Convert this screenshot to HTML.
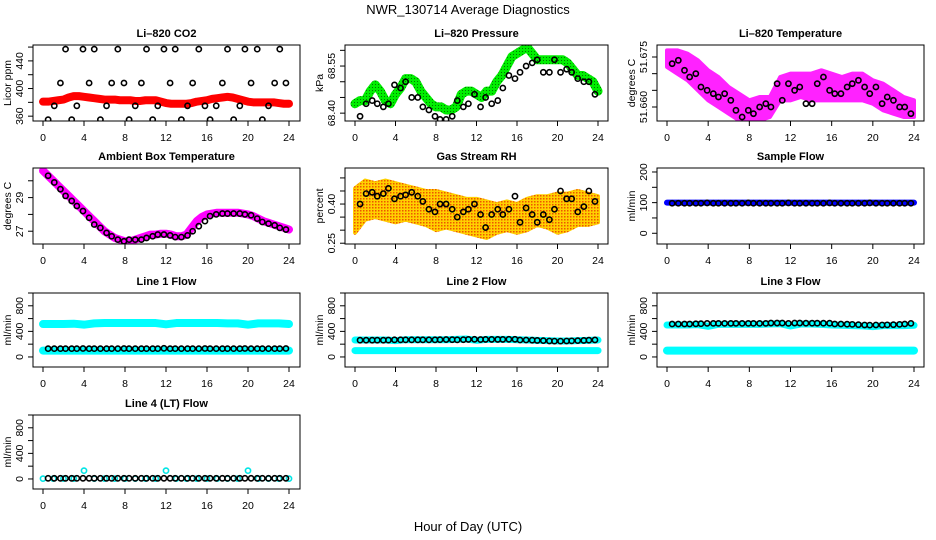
<!DOCTYPE html>
<html><head><meta charset="utf-8"><style>
html,body{margin:0;padding:0;background:#fff;}
svg{display:block;font-family:"Liberation Sans",sans-serif;}
</style></head><body>
<svg id="c" width="936" height="540" viewBox="0 0 936 540">
<defs>
<pattern id="gp" width="3" height="3" patternUnits="userSpaceOnUse"><rect width="3" height="3" fill="#00ee00"/><rect width="1" height="1" fill="#007700"/></pattern>
<pattern id="op" width="3" height="3" patternUnits="userSpaceOnUse"><rect width="3" height="3" fill="#ffd000"/><rect width="1.5" height="1.5" fill="#ee5500"/></pattern>
</defs>
<text x="468" y="14" font-size="13" text-anchor="middle">NWR_130714  Average Diagnostics</text>
<text x="468" y="531" font-size="13" text-anchor="middle">Hour of Day (UTC)</text>
</svg>
<script>
const hours=[0.5,1.1,1.7,2.2,2.8,3.3,3.9,4.5,5.0,5.6,6.2,6.7,7.3,7.9,8.4,9.0,9.6,10.1,10.7,11.2,11.8,12.4,12.9,13.5,14.1,14.6,15.2,15.8,16.3,16.9,17.5,18.0,18.6,19.2,19.7,20.3,20.9,21.4,22.0,22.6,23.1,23.7];
const halfHours=[0,0.5,1,1.5,2,2.5,3,3.5,4,4.5,5,5.5,6,6.5,7,7.5,8,8.5,9,9.5,10,10.5,11,11.5,12,12.5,13,13.5,14,14.5,15,15.5,16,16.5,17,17.5,18,18.5,19,19.5,20,20.5,21,21.5,22,22.5,23,23.5,24];
const wholeHours=[0,1,2,3,4,5,6,7,8,9,10,11,12,13,14,15,16,17,18,19,20,21,22,23,24];
const xTicks=[0,4,8,12,16,20,24];
const co2Black=[355,375,408,457,355,375,457,408,457,355,375,408,457,408,355,375,408,457,355,375,457,408,457,355,375,408,457,375,355,375,408,457,355,375,457,408,457,355,375,408,457,408];
const co2Red=[381,381,382,383,384,387,389,389,388,387,386,385,384,384,384,383,383,383,382,382,383,383,383,381,379,378,378,378,378,379,381,382,383,385,386,387,388,387,385,383,381,380,380,380,380,380,379,378,378];
const presGreen=[68.43,68.44,68.44,68.47,68.49,68.47,68.44,68.43,68.46,68.48,68.51,68.51,68.50,68.47,68.45,68.43,68.42,68.42,68.41,68.41,68.42,68.46,68.47,68.47,68.46,68.45,68.47,68.47,68.50,68.52,68.55,68.58,68.59,68.60,68.61,68.59,68.57,68.57,68.57,68.57,68.57,68.57,68.56,68.54,68.52,68.52,68.51,68.50,68.47];
const presBlack=[68.39,68.43,68.44,68.43,68.42,68.43,68.49,68.48,68.50,68.45,68.45,68.42,68.41,68.39,68.38,68.38,68.39,68.44,68.42,68.43,68.46,68.42,68.45,68.43,68.44,68.48,68.52,68.51,68.53,68.55,68.56,68.57,68.53,68.53,68.57,68.53,68.54,68.53,68.51,68.50,68.50,68.46];
const tempUpper=[51.677,51.677,51.676,51.674,51.671,51.669,51.666,51.664,51.662,51.663,51.663,51.669,51.670,51.670,51.670,51.671,51.670,51.669,51.670,51.670,51.668,51.667,51.665,51.663,51.662];
const tempLower=[51.672,51.670,51.668,51.665,51.662,51.660,51.658,51.656,51.656,51.656,51.657,51.662,51.662,51.663,51.662,51.662,51.662,51.662,51.662,51.662,51.661,51.659,51.658,51.657,51.657];
const tempBlack=[51.673,51.674,51.671,51.669,51.670,51.666,51.665,51.664,51.663,51.664,51.662,51.659,51.657,51.659,51.658,51.660,51.661,51.660,51.667,51.662,51.667,51.665,51.666,51.661,51.661,51.667,51.669,51.665,51.664,51.664,51.666,51.667,51.668,51.666,51.664,51.666,51.661,51.663,51.662,51.660,51.660,51.658];
const ambMagenta=[30.6,30.3,30.0,29.7,29.4,29.1,28.8,28.5,28.2,27.9,27.6,27.3,27.0,26.8,26.6,26.5,26.4,26.4,26.5,26.6,26.7,26.8,26.8,26.85,26.85,26.8,26.7,26.7,26.8,27.2,27.6,27.85,28.0,28.05,28.1,28.1,28.1,28.1,28.1,28.05,28.0,27.9,27.75,27.6,27.5,27.4,27.3,27.2,27.1];
const ambBlack=[30.3,29.9,29.5,29.1,28.8,28.5,28.2,27.8,27.4,27.2,26.9,26.7,26.5,26.4,26.5,26.5,26.5,26.6,26.7,26.8,26.8,26.75,26.65,26.65,26.75,27.0,27.3,27.6,27.9,28.0,28.05,28.05,28.05,28.05,28.0,27.95,27.75,27.55,27.45,27.35,27.2,27.1];
const rhUpper=[0.46,0.49,0.48,0.49,0.48,0.47,0.46,0.45,0.45,0.44,0.43,0.42,0.42,0.41,0.40,0.41,0.40,0.42,0.43,0.43,0.44,0.44,0.45,0.44,0.43];
const rhLower=[0.29,0.34,0.35,0.34,0.33,0.34,0.33,0.32,0.30,0.31,0.30,0.29,0.28,0.27,0.29,0.30,0.29,0.30,0.32,0.31,0.29,0.30,0.32,0.32,0.33];
const rhBlack=[0.40,0.44,0.445,0.43,0.44,0.46,0.42,0.43,0.435,0.445,0.43,0.41,0.38,0.37,0.40,0.40,0.38,0.35,0.37,0.38,0.40,0.36,0.31,0.36,0.38,0.36,0.38,0.43,0.33,0.385,0.36,0.33,0.36,0.34,0.38,0.45,0.42,0.42,0.37,0.39,0.45,0.41];
const sampleBlue=[100,100,100,100,100,100,100,100,100,100,100,100,100,100,100,100,100,100,100,100,100,100,100,100,100];
const sampleBlack=[98,98,98,98,98,98,99,98,98,98,98,98,98,99,98,98,98,98,98,98,99,98,98,98,98,98,98,99,98,98,98,98,98,98,99,98,98,98,98,98,98,98];
const l1CyanHi=[515,515,515,520,505,525,530,530,530,530,530,530,510,530,530,530,530,530,525,525,505,525,525,525,515];
const l1CyanLo=[100,100,100,100,100,100,100,100,100,100,100,100,100,100,100,100,100,100,100,100,100,100,100,100,100];
const l1Black=[130,130,130,130,130,130,132,130,130,130,130,130,130,132,130,130,130,130,130,130,135,130,130,130,130,130,130,132,130,130,130,130,130,130,132,130,130,130,130,130,130,132];
const l2CyanHi=[265,265,265,265,255,270,270,270,270,270,275,280,260,275,275,275,270,265,260,255,250,250,255,260,265];
const l2CyanLo=[100,100,100,100,100,100,100,100,100,100,100,100,100,100,100,100,100,100,100,100,100,100,100,100,100];
const l2Black=[262,262,262,262,262,264,268,268,268,268,268,268,268,268,270,272,270,268,270,274,276,272,274,274,274,274,276,276,265,265,262,258,255,250,248,248,250,252,255,258,262,266];
const l3CyanHi=[500,500,500,505,480,510,510,510,510,510,515,520,485,515,515,510,500,495,490,485,475,490,490,490,495];
const l3CyanLo=[100,100,100,100,100,100,100,100,100,100,100,100,100,100,100,100,100,100,100,100,100,100,100,100,100];
const l3Black=[515,515,515,515,518,520,525,525,525,525,525,525,525,525,525,525,525,530,530,530,525,530,530,528,528,528,528,528,515,515,512,510,505,500,498,500,500,502,505,510,515,525];
const l4Cyan=[5,5,5,5,130,5,5,5,5,5,5,5,130,5,5,5,5,5,5,5,130,5,5,5,5];
const l4Black=[10,10,10,10,10,10,10,10,10,10,10,10,10,10,10,10,10,10,10,10,10,10,10,10,10,10,10,10,10,10,10,10,10,10,10,10,10,10,10,10,10,10];

const NS='http://www.w3.org/2000/svg';
const svg=document.getElementById('c');
function mk(tag,attrs,parent){const e=document.createElementNS(NS,tag);for(const k in attrs)e.setAttribute(k,attrs[k]);(parent||svg).appendChild(e);return e;}
const cols=[{l:33,r:300,x0:43,x1:289},{l:345,r:608,x0:355,x1:598},{l:657,r:924,x0:667,x1:914}];
const rows=[{t:45,b:121},{t:168,b:244},{t:293,b:367},{t:415,b:489}];

function panel(name,title,ytitle,ci,ri,ymin,ymax,ticks,labels,draw){
  const c=cols[ci],r=rows[ri];
  const g=mk('g',{});
  
  
  const X=h=>c.x0+(c.x1-c.x0)*h/24;
  const Y=v=>r.b-(r.b-r.t)*(v-ymin)/(ymax-ymin);
  const clip=mk('clipPath',{id:'cl'+name},g);
  mk('rect',{x:c.l,y:r.t,width:c.r-c.l,height:r.b-r.t},clip);
  const dg=mk('g',{'clip-path':'url(#cl'+name+')'},g);
  
  
  draw(dg,X,Y);
  const box=mk('rect',{x:c.l,y:r.t,width:c.r-c.l,height:r.b-r.t,fill:'none',stroke:'#000','stroke-width':1},g);
  
  
  const t=mk('text',{x:(c.l+c.r)/2,y:r.t-8,'font-size':11,'font-weight':'bold','text-anchor':'middle'},g);
  
  
  t.textContent=title;
  xTicks.forEach(h=>{
    mk('line',{x1:X(h),x2:X(h),y1:r.b,y2:r.b+5,stroke:'#000'},g);
    const tl=mk('text',{x:X(h),y:r.b+20,'font-size':10.5,'text-anchor':'middle'},g);
    
    
    tl.textContent=h;
  });
  ticks.forEach(v=>{mk('line',{x1:c.l-5,x2:c.l,y1:Y(v),y2:Y(v),stroke:'#000'},g);});
  labels.forEach(v=>{
    const yy=Y(parseFloat(v));
    const tl=mk('text',{x:0,y:0,'font-size':10.5,'text-anchor':'middle',transform:`translate(${c.l-10},${yy}) rotate(-90)`},g);
    
    
    tl.textContent=v;
  });
  const yt=mk('text',{x:0,y:0,'font-size':10.5,'text-anchor':'middle',transform:`translate(${c.l-22},${(r.t+r.b)/2}) rotate(-90)`},g);
  
  
  yt.textContent=ytitle;
}
function line(g,X,Y,xs,vs,col,w){
  const p=mk('polyline',{points:xs.map((h,i)=>X(h)+','+Y(vs[i])).join(' '),fill:'none',stroke:col,'stroke-width':w,'stroke-linejoin':'round','stroke-linecap':'round'},g);
  
  
}
function band(g,X,Y,xs,up,lo,fill){
  const pts=xs.map((h,i)=>X(h)+','+Y(up[i])).concat(xs.slice().reverse().map((h,i)=>X(h)+','+Y(lo[xs.length-1-i])));
  const p=mk('polygon',{points:pts.join(' '),fill:fill,stroke:fill,'stroke-width':4,'stroke-linejoin':'round'},g);
  
  
}
function pts(g,X,Y,xs,vs,col){
  xs.forEach((h,i)=>{
    const c=mk('circle',{cx:X(h),cy:Y(vs[i]),r:2.6,fill:'none',stroke:col,'stroke-width':1.6},g);
    
    
  });
}
panel('co2','Li\u2013820 CO2','Licor ppm',0,0,353,463,[360,380,400,420,440,460],['360','400','440'],(g,X,Y)=>{
  line(g,X,Y,halfHours,co2Red,'#ff0000',8);pts(g,X,Y,hours,co2Black,'#000');});
panel('pressure','Li\u2013820 Pressure','kPa',1,0,68.375,68.617,[68.40,68.45,68.50,68.55,68.60],['68.40','68.55'],(g,X,Y)=>{
  line(g,X,Y,halfHours,presGreen,'url(#gp)',9);pts(g,X,Y,hours,presBlack,'#000');});
panel('temperature','Li\u2013820 Temperature','degrees C',2,0,51.6558,51.6786,[51.660,51.665,51.670,51.675],['51.660','51.675'],(g,X,Y)=>{
  band(g,X,Y,wholeHours,tempUpper,tempLower,'#ff22ff');pts(g,X,Y,hours,tempBlack,'#000');});
panel('ambient','Ambient Box Temperature','degrees C',0,1,26.24,30.76,[27,28,29,30],['27','29'],(g,X,Y)=>{
  line(g,X,Y,halfHours,ambMagenta,'#ff00ff',8);pts(g,X,Y,hours,ambBlack,'#000');});
panel('rh','Gas Stream RH','percent',1,1,0.247,0.538,[0.25,0.30,0.35,0.40,0.45,0.50],['0.25','0.40'],(g,X,Y)=>{
  band(g,X,Y,wholeHours,rhUpper,rhLower,'url(#op)');pts(g,X,Y,hours,rhBlack,'#000');});
panel('sample-flow','Sample Flow','ml/min',2,1,-35,213,[0,50,100,150,200],['0','100','200'],(g,X,Y)=>{
  line(g,X,Y,wholeHours,sampleBlue,'#0000ff',6);pts(g,X,Y,hours,sampleBlack,'#000');});
const lt=[0,200,400,600,800,1000],ll=['0','400','800'];
panel('line1','Line 1 Flow','ml/min',0,2,-157,1000,lt,ll,(g,X,Y)=>{
  line(g,X,Y,wholeHours,l1CyanHi,'#00ffff',8);line(g,X,Y,wholeHours,l1CyanLo,'#00ffff',8);pts(g,X,Y,hours,l1Black,'#000');});
panel('line2','Line 2 Flow','ml/min',1,2,-157,1000,lt,ll,(g,X,Y)=>{
  line(g,X,Y,wholeHours,l2CyanHi,'#00ffff',7);line(g,X,Y,wholeHours,l2CyanLo,'#00ffff',7);pts(g,X,Y,hours,l2Black,'#000');});
panel('line3','Line 3 Flow','ml/min',2,2,-157,1000,lt,ll,(g,X,Y)=>{
  line(g,X,Y,wholeHours,l3CyanHi,'#00ffff',7);line(g,X,Y,wholeHours,l3CyanLo,'#00ffff',8);pts(g,X,Y,hours,l3Black,'#000');});
panel('line4','Line 4 (LT) Flow','ml/min',0,3,-157,1000,lt,ll,(g,X,Y)=>{
  pts(g,X,Y,wholeHours,l4Cyan,'#00e5e5');pts(g,X,Y,hours,l4Black,'#000');});
</script>
</body></html>
